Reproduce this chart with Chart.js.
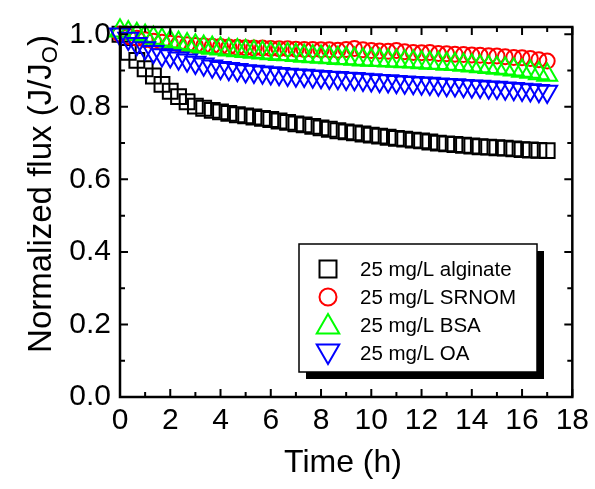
<!DOCTYPE html>
<html>
<head>
<meta charset="utf-8">
<script src="https://cdn.jsdelivr.net/npm/chart.js@4/dist/chart.umd.min.js"></script>
<style>
  html, body { margin: 0; padding: 0; background: #fff; }
  #wrap { width: 595px; height: 489px; }
</style>
</head>
<body>
<div id="wrap"><canvas id="fluxChart" width="595" height="489"></canvas></div>
<script>
// time in hours (one reading every ~20 min)
const times = [0,0.33,0.67, 1,1.33,1.67, 2,2.33,2.67, 3,3.33,3.67, 4,4.33,4.67, 5,5.33,5.67,
  6,6.33,6.67, 7,7.33,7.67, 8,8.33,8.67, 9,9.33,9.67, 10,10.33,10.67, 11,11.33,11.67,
  12,12.33,12.67, 13,13.33,13.67, 14,14.33,14.67, 15,15.33,15.67, 16,16.33,16.67, 17];

// normalized flux J/Jo
const alginate = [1.000,0.950,0.928, 0.905,0.885,0.862, 0.843,0.828,0.814, 0.802,0.796,0.790,
  0.786,0.782,0.778, 0.775,0.772,0.768, 0.765,0.761,0.757, 0.753,0.750,0.746,
  0.742,0.738,0.734, 0.731,0.728,0.725, 0.722,0.719,0.716, 0.713,0.711,0.708,
  0.706,0.703,0.700, 0.698,0.696,0.694, 0.692,0.690,0.689, 0.687,0.686,0.684,
  0.682,0.681,0.680, 0.679];
const srnom = [1.000,0.994,0.989, 0.985,0.981,0.978, 0.975,0.973,0.971, 0.969,0.968,0.967,
  0.966,0.965,0.964, 0.963,0.962,0.962, 0.961,0.960,0.960, 0.959,0.958,0.958,
  0.957,0.957,0.956, 0.958,0.961,0.957, 0.955,0.954,0.953, 0.955,0.952,0.950,
  0.949,0.950,0.947, 0.946,0.945,0.944, 0.943,0.942,0.941, 0.940,0.938,0.936,
  0.935,0.933,0.930, 0.926];
const bsa = [1.010,1.005,1.000, 0.995,0.990,0.985, 0.980,0.976,0.972, 0.968,0.965,0.962,
  0.960,0.957,0.955, 0.953,0.951,0.949, 0.947,0.945,0.944, 0.942,0.940,0.939,
  0.937,0.936,0.934, 0.933,0.932,0.930, 0.929,0.928,0.927, 0.926,0.925,0.924,
  0.922,0.921,0.920, 0.918,0.917,0.915, 0.913,0.911,0.909, 0.907,0.905,0.902,
  0.899,0.896,0.892, 0.888];
const oa = [1.000,0.988,0.974, 0.962,0.952,0.943, 0.940,0.934,0.928, 0.922,0.917,0.912,
  0.908,0.905,0.902, 0.899,0.897,0.895, 0.893,0.891,0.889, 0.887,0.886,0.884,
  0.883,0.881,0.880, 0.878,0.877,0.875, 0.874,0.872,0.871, 0.869,0.868,0.866,
  0.865,0.864,0.862, 0.861,0.860,0.858, 0.857,0.856,0.854, 0.853,0.851,0.850,
  0.848,0.846,0.844, 0.842];

const seriesNames = ['25 mg/L alginate', '25 mg/L SRNOM', '25 mg/L BSA', '25 mg/L OA'];
const xTicks = [0, 2, 4, 6, 8, 10, 12, 14, 16, 18];
const yTicks = [0.0, 0.2, 0.4, 0.6, 0.8, 1.0];

const FONT = '"Liberation Sans", Arial, Helvetica, sans-serif';

function pts(ys) {
  return times.map((t, i) => ({ x: t, y: ys[i] }));
}

// inward ticks + closed frame
const frameTicks = {
  id: 'frameTicks',
  afterDraw(chart) {
    const { ctx, chartArea: a, scales: { x, y } } = chart;
    ctx.save();
    ctx.strokeStyle = '#000';
    ctx.lineWidth = 2;
    for (let v = 0; v <= 18; v += 1) {
      const px = x.getPixelForValue(v);
      const len = v % 2 === 0 ? 8 : 5;
      ctx.beginPath();
      ctx.moveTo(px, a.bottom); ctx.lineTo(px, a.bottom - len);
      ctx.moveTo(px, a.top); ctx.lineTo(px, a.top + len);
      ctx.stroke();
    }
    for (let k = 0; k <= 10; k++) {
      const py = y.getPixelForValue(k / 10);
      const len = k % 2 === 0 ? 8 : 5;
      ctx.beginPath();
      ctx.moveTo(a.left, py); ctx.lineTo(a.left + len, py);
      ctx.moveTo(a.right, py); ctx.lineTo(a.right - len, py);
      ctx.stroke();
    }
    ctx.lineWidth = 2.5;
    ctx.strokeRect(a.left, a.top, a.right - a.left, a.bottom - a.top);
    ctx.restore();
  }
};

// axis titles, y one has a subscript
const axisTitles = {
  id: 'axisTitles',
  afterDraw(chart) {
    const ctx = chart.ctx;
    ctx.save();
    ctx.fillStyle = '#000';
    ctx.font = '32px ' + FONT;
    ctx.textAlign = 'center';
    ctx.textBaseline = 'alphabetic';
    ctx.fillText('Time (h)', 343, 472);

    const main = 'Normalized flux (J/J';
    const sub = 'O';
    const end = ')';
    ctx.font = '33px ' + FONT;
    const w1 = ctx.measureText(main).width;
    const w3 = ctx.measureText(end).width;
    ctx.font = '22px ' + FONT;
    const w2 = ctx.measureText(sub).width;
    const total = w1 + w2 + w3;
    ctx.translate(51, 194);
    ctx.rotate(-Math.PI / 2);
    ctx.textAlign = 'left';
    let cx = -total / 2;
    ctx.font = '33px ' + FONT;
    ctx.fillText(main, cx, 0);
    cx += w1;
    ctx.font = '22px ' + FONT;
    ctx.fillText(sub, cx, 6);
    cx += w2;
    ctx.font = '33px ' + FONT;
    ctx.fillText(end, cx, 0);
    ctx.restore();
  }
};

// boxed legend with drop shadow
const boxLegend = {
  id: 'boxLegend',
  afterDraw(chart) {
    const ctx = chart.ctx;
    const bx = 299, by = 244, bw = 238, bh = 128;
    ctx.save();
    ctx.fillStyle = '#000';
    ctx.fillRect(bx + 7, by + 7, bw, bh);
    ctx.fillStyle = '#fff';
    ctx.fillRect(bx, by, bw, bh);
    ctx.strokeStyle = '#000';
    ctx.lineWidth = 1.5;
    ctx.strokeRect(bx, by, bw, bh);

    const legendSizes = [12, 8.5, 13, 13];
    chart.data.datasets.forEach((ds, i) => {
      const ry = 269 + i * 28;
      ctx.strokeStyle = ds.borderColor;
      ctx.fillStyle = 'rgba(0,0,0,0)';
      ctx.lineWidth = 2;
      Chart.helpers.drawPoint(ctx, {
        pointStyle: ds.pointStyle,
        radius: legendSizes[i],
        rotation: ds.pointRotation || 0,
        borderWidth: 2
      }, 328, ds.pointStyle === 'triangle' ? ry + (ds.pointRotation ? -2 : 2) : ry);
      ctx.fillStyle = '#000';
      ctx.font = '20.5px ' + FONT;
      ctx.textAlign = 'left';
      ctx.textBaseline = 'middle';
      ctx.fillText(seriesNames[i], 360, ry + 1);
    });
    ctx.restore();
  }
};

const ctx = document.getElementById('fluxChart');

const data = {
  datasets: [
    {
      label: seriesNames[0],
      data: pts(alginate),
      pointStyle: 'rect',
      pointRadius: 10.5,
      borderColor: '#000000',
      order: 3,
    },
    {
      label: seriesNames[1],
      data: pts(srnom),
      pointStyle: 'circle',
      pointRadius: 7.5,
      borderColor: '#ff0000',
      order: 2,
    },
    {
      label: seriesNames[2],
      data: pts(bsa),
      pointStyle: 'triangle',
      pointRadius: 11.5,
      borderColor: '#00ff00',
      order: 1,
    },
    {
      label: seriesNames[3],
      data: pts(oa),
      pointStyle: 'triangle',
      pointRotation: 180,
      pointRadius: 11.5,
      borderColor: '#0000ff',
      order: 0,
    },
  ],
};
data.datasets.forEach(ds => {
  ds.showLine = false;
  ds.backgroundColor = 'rgba(0,0,0,0)';
  ds.pointBorderWidth = 2;
  ds.clip = false;
});

const myChart = new Chart(ctx, {
  type: 'scatter',
  data: data,
  options: {
    responsive: false,
    animation: false,
    events: [],
    layout: { padding: { left: 0, top: 13, right: 18, bottom: 0 } },
    plugins: { legend: { display: false }, tooltip: { enabled: false } },
    scales: {
      x: {
        type: 'linear',
        min: 0,
        max: 18,
        afterFit: s => { s.height = 92; },
        afterBuildTicks: s => { s.ticks = xTicks.map(v => ({ value: v })); },
        grid: { display: false, drawTicks: false },
        border: { display: false },
        ticks: {
          color: '#000',
          font: { family: FONT, size: 30 },
          padding: 6,
          maxRotation: 0,
          autoSkip: false,
        },
      },
      y: {
        type: 'linear',
        min: 0,
        max: 1.02,
        afterFit: s => { s.width = 120; },
        afterBuildTicks: s => { s.ticks = yTicks.map(v => ({ value: v })); },
        grid: { display: false, drawTicks: false },
        border: { display: false },
        ticks: {
          color: '#000',
          font: { family: FONT, size: 30 },
          padding: 9,
          callback: v => Number(v).toFixed(1),
        },
      },
    },
  },
  plugins: [frameTicks, axisTitles, boxLegend],
});
</script>
</body>
</html>
